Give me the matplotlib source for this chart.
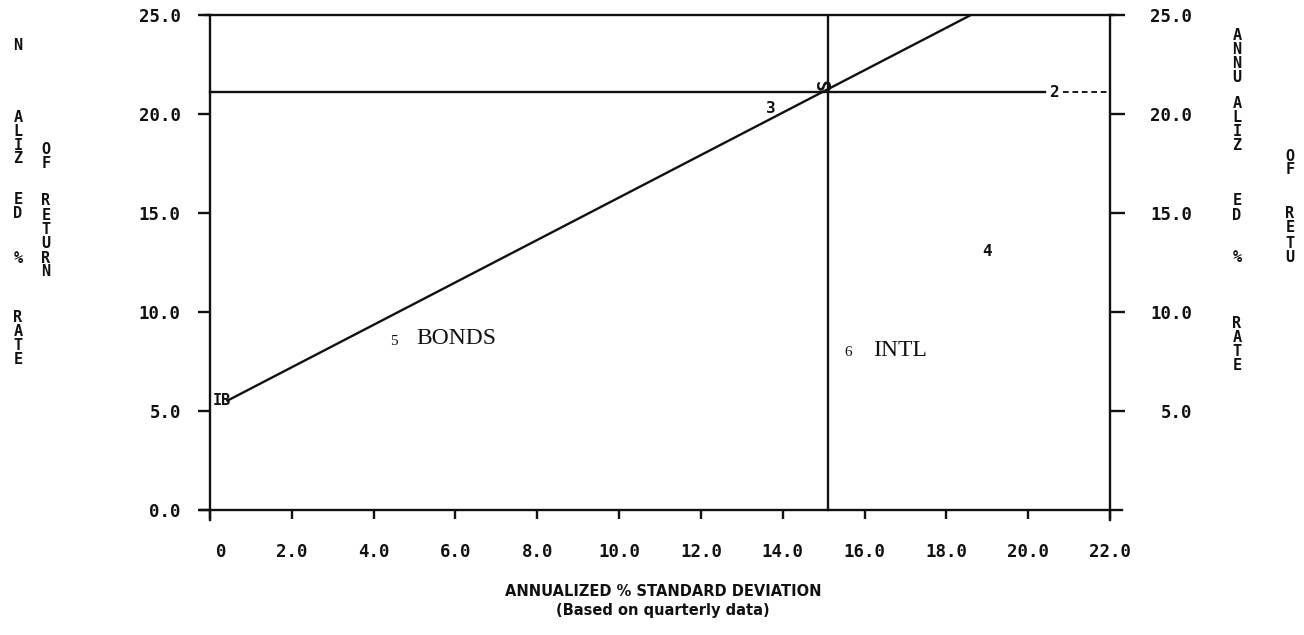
import matplotlib
matplotlib.use("Agg")
import matplotlib.pyplot as plt
import matplotlib.transforms as mtransforms

# ---------------- data ----------------
x_ticks = [0, 2, 4, 6, 8, 10, 12, 14, 16, 18, 20, 22]
x_tick_labels = ["0", "2.0", "4.0", "6.0", "8.0", "10.0", "12.0", "14.0",
                 "16.0", "18.0", "20.0", "22.0"]
y_ticks_left = [0, 5, 10, 15, 20, 25]
y_tick_labels_left = ["0.0", "5.0", "10.0", "15.0", "20.0", "25.0"]
y_ticks_right = [5, 10, 15, 20, 25]
y_tick_labels_right = ["5.0", "10.0", "15.0", "20.0", "25.0"]

# line 3 : capital market line from BONDS upward
cml_x = [0.4, 18.6]
cml_y = [5.5, 25.0]
# line 2 : horizontal return level
level2_y = 21.1
level2_solid_x = [0.0, 20.4]
level2_dash_x = [20.85, 22.0]
# INTL vertical risk line
intl_x = 15.1
intl_y_range = [0.0, 25.0]
# plotted symbols
bonds_point = (0.28, 5.55)
intl_point = (15.05, 21.5)
# numbered labels
label3 = (13.7, 20.3)
label4 = (19.0, 13.05)
label2 = (20.62, 21.1)
bonds_label = (4.5, 8.5)
intl_label = (15.6, 7.95)

xlabel_line1 = "ANNUALIZED % STANDARD DEVIATION"
xlabel_line2 = "(Based on quarterly data)"

left_col1 = ["N", "A", "L", "I", "Z", "E", "D", "%", "R", "A", "T", "E"]
left_col2 = ["O", "F", "R", "E", "T", "U", "R", "N"]
right_col1 = ["A", "N", "N", "U", "A", "L", "I", "Z", "E", "D", "%", "R", "A", "T", "E"]
right_col2 = ["O", "F", "R", "E", "T", "U"]

# ---------------- layout ----------------
W, H = 1304, 635
fig = plt.figure(figsize=(W / 100, H / 100), dpi=100)
fig.patch.set_facecolor("white")

px_left, px_right = 199.8, 1122.3
px_top, px_bottom = 15.0, 520.0
ax = fig.add_axes([px_left / W, 1 - px_bottom / H,
                   (px_right - px_left) / W, (px_bottom - px_top) / H])
ax.set_xlim(-0.25, 22.3)
ax.set_ylim(-0.5, 25.0)
ax.patch.set_alpha(0)

mono = "DejaVu Sans Mono"
tick_font = dict(family=mono, weight="bold", size=12.5)
lw = 1.7
ink = "#111111"

for side in ["left", "right", "top", "bottom"]:
    ax.spines[side].set_linewidth(lw)
    ax.spines[side].set_color(ink)
ax.spines["left"].set_position(("data", 0))
ax.spines["left"].set_bounds(-0.5, 25.0)
ax.spines["right"].set_position(("data", 22))
ax.spines["right"].set_bounds(-0.5, 25.0)
ax.spines["bottom"].set_position(("data", 0))
ax.spines["bottom"].set_bounds(-0.25, 22.3)
ax.spines["top"].set_position(("data", 25))
ax.spines["top"].set_bounds(-0.12, 22.1)

ax.set_xticks(x_ticks)
ax.set_xticklabels(x_tick_labels, **tick_font)
ax.tick_params(axis="x", direction="out", length=6.5, width=lw, pad=17, colors=ink)
ax.set_yticks(y_ticks_left)
ax.set_yticklabels(y_tick_labels_left, **tick_font)
ax.tick_params(axis="y", direction="out", length=9, width=lw, pad=12, colors=ink,
               right=False, labelright=False)
zero_lab = ax.get_xticklabels()[0]
zero_lab.set_transform(zero_lab.get_transform() +
                       mtransforms.ScaledTranslation(11 / 100, 0, fig.dpi_scale_trans))

ax2 = ax.twinx()
ax2.set_ylim(ax.get_ylim())
ax2.patch.set_alpha(0)
for side in ["left", "top", "bottom", "right"]:
    ax2.spines[side].set_visible(False)
ax2.set_yticks(y_ticks_right)
ax2.set_yticklabels(y_tick_labels_right, **tick_font)
ax2.tick_params(axis="y", direction="out", length=11, width=lw, pad=48, colors=ink)
for t in ax2.yaxis.get_major_ticks():
    t.label2.set_horizontalalignment("right")
# move the right ticks onto data x = 22 (axes edge is at 22.3)
shift = mtransforms.ScaledTranslation(-(0.3 * 40.91) / 100, 0, fig.dpi_scale_trans)
for t in ax2.yaxis.get_major_ticks():
    t.tick2line.set_transform(t.tick2line.get_transform() + shift)
    t.label2.set_transform(t.label2.get_transform() + shift)

# ---------------- marks ----------------
ax.plot(cml_x, cml_y, color=ink, lw=lw, solid_capstyle="butt")
ax.plot(level2_solid_x, [level2_y, level2_y], color=ink, lw=lw)
ax.plot(level2_dash_x, [level2_y, level2_y], color=ink, lw=lw * 0.8, ls=(0, (3, 2)))
ax.plot([intl_x, intl_x], intl_y_range, color=ink, lw=lw)

ax.text(*bonds_point, "IB", family=mono, size=11, weight="bold", color=ink,
        ha="center", va="center")
ax.text(*intl_point, "S", family=mono, size=14, weight="bold", color=ink,
        rotation=90, ha="center", va="center")

ax.text(*label3, "3", family=mono, size=11.5, weight="bold", color=ink, ha="center", va="center")
ax.text(*label4, "4", family=mono, size=11.5, weight="bold", color=ink, ha="center", va="center")
ax.text(*label2, "2", family=mono, size=11.5, weight="bold", color=ink, ha="center", va="center",
        bbox=dict(facecolor="white", edgecolor="none", pad=0.5))
ax.text(*bonds_label, "5", family="Liberation Serif", size=11, color=ink, ha="center", va="center")
ax.text(bonds_label[0] + 0.55, bonds_label[1] + 0.15, "BONDS", family="Liberation Serif",
        size=17, color=ink, ha="left", va="center")
ax.text(*intl_label, "6", family="Liberation Serif", size=11, color=ink, ha="center", va="center")
ax.text(intl_label[0] + 0.62, intl_label[1] + 0.1, "INTL", family="Liberation Serif",
        size=17, color=ink, ha="left", va="center")

# ---------------- axis titles ----------------
fig.text(663 / W, 1 - 592 / H, xlabel_line1, family="DejaVu Sans", weight="bold",
         size=10.5, color=ink, ha="center", va="center")
fig.text(663 / W, 1 - 611 / H, xlabel_line2, family="DejaVu Sans", weight="bold",
         size=10.5, color=ink, ha="center", va="center")

stack_font = dict(family=mono, weight="bold", size=11, color=ink, ha="center", va="center")
left_col1_y = [46, 117, 131, 145, 159, 200, 214, 258, 317, 331, 346, 360]
left_col2_y = [149, 164, 201, 215, 229, 244, 258, 272]
right_col1_y = [35, 49, 63, 78, 103, 117, 131, 145, 201, 215, 257, 323, 338, 352, 366]
right_col2_y = [156, 170, 213, 228, 243, 257]
for ch, y in zip(left_col1, left_col1_y):
    fig.text(18 / W, 1 - y / H, ch, **stack_font)
for ch, y in zip(left_col2, left_col2_y):
    fig.text(46 / W, 1 - y / H, ch, **stack_font)
for ch, y in zip(right_col1, right_col1_y):
    fig.text(1237 / W, 1 - y / H, ch, **stack_font)
for ch, y in zip(right_col2, right_col2_y):
    fig.text(1290 / W, 1 - y / H, ch, **stack_font)

fig.savefig("out.png", dpi=100, facecolor="white")
